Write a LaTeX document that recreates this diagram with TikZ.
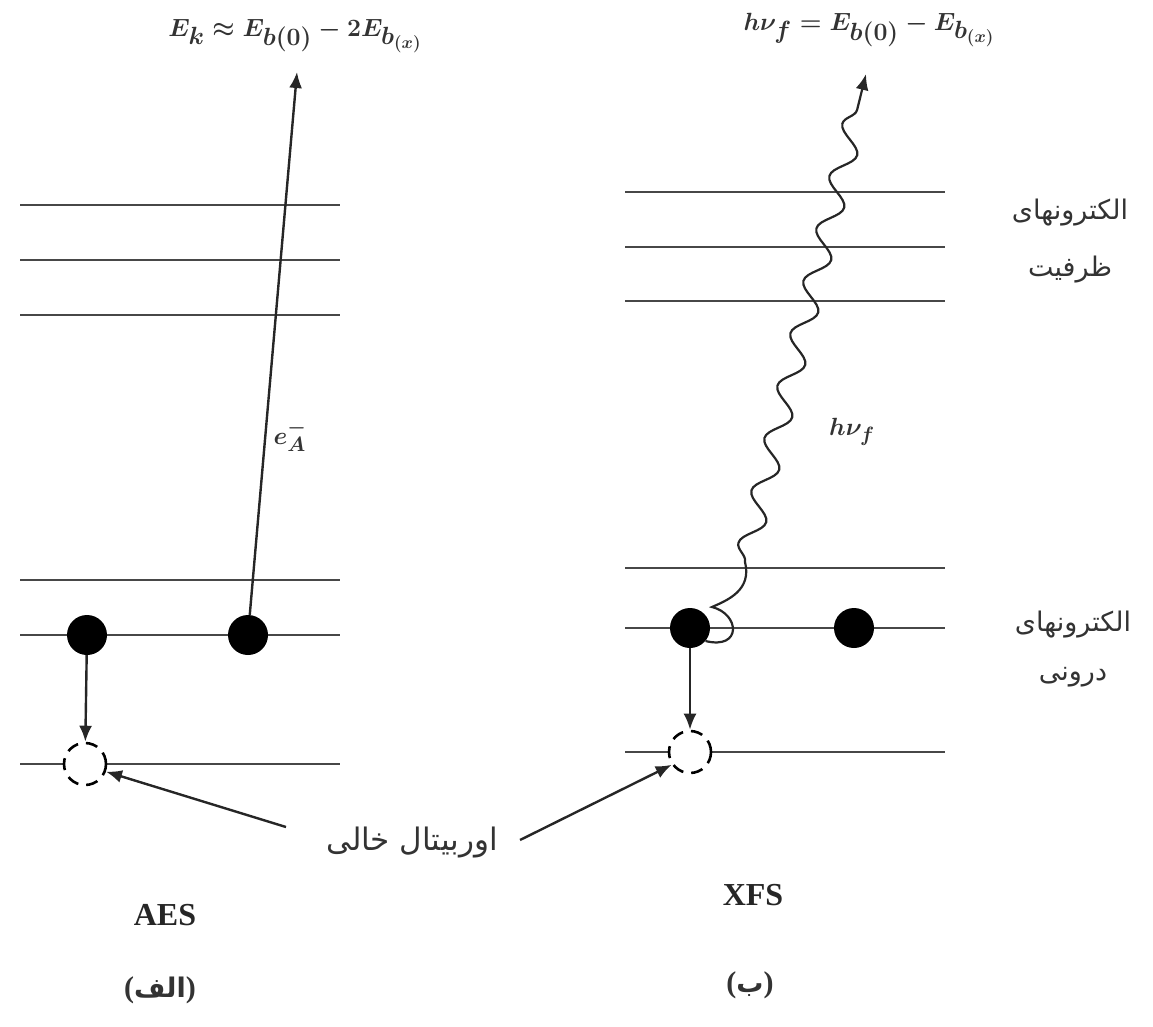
\documentclass[tikz,border=0pt]{standalone}
\usepackage{fontspec}
\setmainfont{Liberation Serif}
\newfontfamily\arabicfont[Script=Arabic]{DejaVu Sans}
\TeXXeTstate=1
\usetikzlibrary{arrows.meta,decorations.pathmorphing,calc}
\begin{document}
\begin{tikzpicture}[x=1pt,y=-1pt,
  level/.style={line width=2.6pt, draw=black!72},
  dot/.style={circle, fill=black, minimum size=40pt, inner sep=0pt},
  hole/.style={circle, draw=black, fill=white, dash pattern=on 12pt off 8pt, line width=2.6pt, minimum size=42pt, inner sep=0pt},
  arr/.style={line width=2.4pt, draw=black!85, -{Latex[length=16pt,width=13pt]}},
  fa/.style={font=\arabicfont\fontsize{27}{30}\selectfont, text=black!80},
  formula/.style={font=\fontsize{36}{40}\selectfont\boldmath, text=black!80},
  lab/.style={font=\fontsize{32}{38}\selectfont\bfseries, text=black!85},
  parlab/.style={font=\fontsize{30}{34}\selectfont\bfseries, text=black!80}]
\useasboundingbox (0,0) rectangle (1153,1026);

% levels, left
\foreach \y in {205,260,315,580,635,764} \draw[level] (20,\y) -- (340,\y);
% levels, right
\foreach \y in {192,247,301,568,628,752} \draw[level] (625,\y) -- (945,\y);

% formulas
\node[formula] (fL) at (295,36) {$E_k \approx E_{b(0)} - 2E_{b_{(x)}}$};
\node[formula] (fR) at (869,30) {$h\nu_f = E_{b(0)} - E_{b_{(x)}}$};
\coordinate (tipL) at (297,72);
\coordinate (tipR) at (866,74);

% holes
\node[hole] (hA) at (85,764) {};
\node[hole] (hB) at (690,752) {};

% electrons
\node[dot] (a1) at (87,635) {};
\node[dot] (a2) at (248,635) {};
\node[dot] (b1) at (690,628) {};
\node[dot] (b2) at (854,628) {};

% transitions
\draw[arr] (a1) -- (hA);
\draw[arr] (b1) -- (hB);
\draw[arr] (a2) -- (tipL);
\draw[line width=2.2pt, draw=black!85, -{Latex[length=16pt,width=13pt]}]
  (b1.-40) .. controls (742,650) and (740,614) .. (712,607)
  .. controls (728,600) and (752,590) .. (745,562)
  decorate[decoration={snake, segment length=54pt, amplitude=11pt, post length=14pt}] {-- (tipR)};

\node[font=\fontsize{28}{32}\selectfont\boldmath, text=black!80] (eA) at (290,436) {$e_A^-$};
\node[font=\fontsize{30}{34}\selectfont\boldmath, text=black!80] (hv) at (852,432) {$h\nu_f$};

% Persian labels
\node[fa] (v1) at (1070,213) {\beginR الکترونهای\endR};
\node[fa] (v2) at (1070,270) {\beginR ظرفیت\endR};
\node[fa] (c1) at (1073,625) {\beginR الکترونهای\endR};
\node[fa] (c2) at (1073,677) {\beginR درونی\endR};
\node[fa, font=\arabicfont\fontsize{31}{34}\selectfont, inner sep=0pt] (orb) at (412,842) {\beginR اوربیتال خالی\endR};
\draw[arr] ($(orb.west)+(-40,-15)$) -- (hA.-20);
\draw[arr] ($(orb.east)+(22,-2)$) -- (hB.215);

% captions
\node[lab] (aes) at (165,915) {AES};
\node[lab] (xfs) at (753,895) {XFS};
\node[parlab] (pa) at (160,990) {\hbox{(}\hbox{\arabicfont\fontsize{27}{30}\selectfont الف}\hbox{)}};
\node[parlab] (pb) at (750,985) {\hbox{(}\hbox{\arabicfont\fontsize{27}{30}\selectfont ب}\hbox{)}};
\end{tikzpicture}
\end{document}
